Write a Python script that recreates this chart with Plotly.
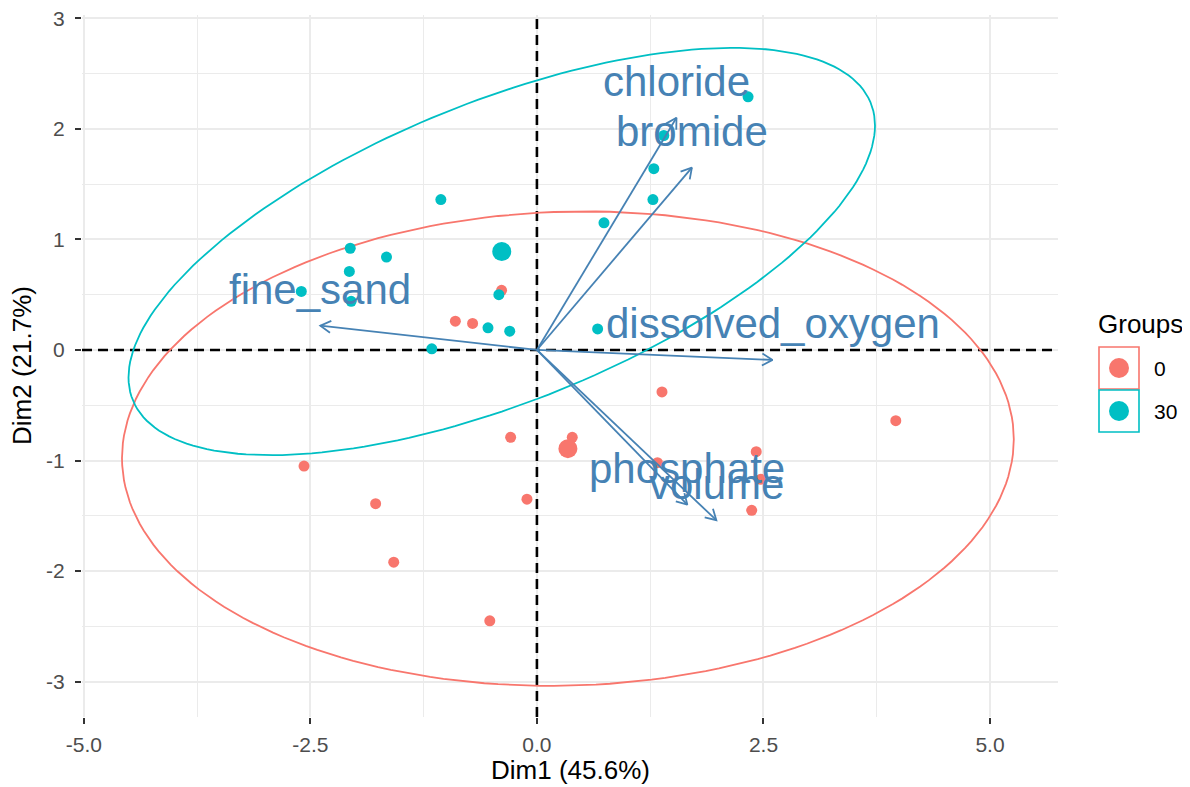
import numpy as np
import plotly.graph_objects as go

# ---------------- data ----------------
groups = ["0", "30"]
group_colors = {"0": "#F8766D", "30": "#00BFC4"}

# individuals, group "0"
g0_x = [-0.39, -0.90, -0.71, 1.38, 3.96, 0.39, 2.42, 1.33, 2.47, 2.37, -0.29, -2.57, -1.78, -0.11, -1.58, -0.52]
g0_y = [0.54, 0.26, 0.24, -0.38, -0.64, -0.79, -0.92, -1.02, -1.17, -1.45, -0.79, -1.05, -1.39, -1.35, -1.92, -2.45]
# individuals, group "30"
g30_x = [2.33, 1.40, 1.29, 1.28, 0.74, -1.06, -2.06, -1.66, -2.07, -2.60, -2.05, -0.42, -0.54, -0.30, -1.16, 0.67]
g30_y = [2.29, 1.94, 1.64, 1.36, 1.15, 1.36, 0.92, 0.84, 0.71, 0.53, 0.44, 0.50, 0.20, 0.17, 0.01, 0.19]

# variable arrows (coordinates of the arrow tips)
var_names = ["chloride", "bromide", "dissolved_oxygen", "fine_sand", "phosphate", "volume"]
var_x = [1.54, 1.71, 2.60, -2.39, 1.66, 1.98]
var_y = [2.10, 1.65, -0.09, 0.22, -1.40, -1.54]

x_tickvals = [-5.0, -2.5, 0.0, 2.5, 5.0]
x_ticktext = ["-5.0", "-2.5", "0.0", "2.5", "5.0"]
y_tickvals = [-3, -2, -1, 0, 1, 2, 3]
y_ticktext = ["-3", "-2", "-1", "0", "1", "2", "3"]

x_title = "Dim1 (45.6%)"
y_title = "Dim2 (21.7%)"
legend_title = "Groups"
ellipse_level = 0.95

# ---------------- layout constants ----------------
# the page body has an 8px margin, so the figure is drawn 8px in from the
# window's top-left corner; all pixel positions below are window pixels.
OFF = 8
WIN_W, WIN_H = 1190, 787
W, H = WIN_W - OFF, WIN_H - OFF
PX0, PX1, PY0, PY1 = 82, 1058, 15, 717
X_MIN, X_MAX = -5.02, 5.75
Y_MIN, Y_MAX = -3.32, 3.03
SX = (PX1 - PX0) / (X_MAX - X_MIN)
SY = (PY1 - PY0) / (Y_MAX - Y_MIN)
FONT = "Liberation Sans, Arial, Helvetica, sans-serif"
ARROW_COL = "#4682B4"


def pxp(xp):
    return (xp - PX0) / (PX1 - PX0)


def pyp(yp):
    return (PY1 - yp) / (PY1 - PY0)


def norm_ellipse(xs, ys, level=0.95, segments=200):
    """Same computation as ggplot2::stat_ellipse(type = 'norm')."""
    pts = np.column_stack([xs, ys])
    n = len(pts)
    center = pts.mean(axis=0)
    cov = np.cov(pts, rowvar=False)
    d = n - 1
    # quantile of F(2, d) in closed form
    qf = (d / 2.0) * ((1 - level) ** (-2.0 / d) - 1)
    radius = np.sqrt(2 * qf)
    ang = np.linspace(0, 2 * np.pi, segments + 1)
    circle = np.column_stack([np.cos(ang), np.sin(ang)])
    L = np.linalg.cholesky(cov)
    ell = center + radius * circle @ L.T
    return ell[:, 0], ell[:, 1]


fig = go.Figure()

data = {"0": (g0_x, g0_y), "30": (g30_x, g30_y)}

# dashed reference lines
fig.add_trace(go.Scatter(x=[X_MIN, X_MAX], y=[0, 0], mode="lines",
                         line=dict(color="black", width=2.6, dash="10px,6px"),
                         hoverinfo="skip", showlegend=False))
fig.add_trace(go.Scatter(x=[0, 0], y=[Y_MIN, Y_MAX], mode="lines",
                         line=dict(color="black", width=2.6, dash="10px,6px"),
                         hoverinfo="skip", showlegend=False))

# ellipses
for g in groups:
    ex, ey = norm_ellipse(*data[g], level=ellipse_level)
    fig.add_trace(go.Scatter(x=ex, y=ey, mode="lines",
                             line=dict(color=group_colors[g], width=1.8),
                             hoverinfo="skip", showlegend=False))

# individual points
for g in groups:
    gx, gy = data[g]
    fig.add_trace(go.Scatter(x=gx, y=gy, mode="markers",
                             marker=dict(color=group_colors[g], size=11, line=dict(width=0)),
                             name=g, showlegend=False))
# group means
for g in groups:
    gx, gy = data[g]
    fig.add_trace(go.Scatter(x=[np.mean(gx)], y=[np.mean(gy)], mode="markers",
                             marker=dict(color=group_colors[g], size=19, line=dict(width=0)),
                             hoverinfo="skip", showlegend=False))

# variable arrows
HEAD_LEN = 12
HEAD_ANG = np.radians(30)
ax_, ay_ = [], []
for vx, vy in zip(var_x, var_y):
    dxp, dyp = vx * SX, vy * SY
    n = np.hypot(dxp, dyp)
    ux, uy = dxp / n, dyp / n
    wings = []
    for s in (1, -1):
        a = s * HEAD_ANG
        rx = ux * np.cos(a) - uy * np.sin(a)
        ry = ux * np.sin(a) + uy * np.cos(a)
        wings.append((vx - HEAD_LEN * rx / SX, vy - HEAD_LEN * ry / SY))
    ax_ += [0, vx, None, wings[0][0], vx, wings[1][0], None]
    ay_ += [0, vy, None, wings[0][1], vy, wings[1][1], None]
fig.add_trace(go.Scatter(x=ax_, y=ay_, mode="lines",
                         line=dict(color=ARROW_COL, width=1.8),
                         hoverinfo="skip", showlegend=False))

# variable labels
annotations = []
for name, vx, vy in zip(var_names, var_x, var_y):
    annotations.append(dict(x=vx, y=vy, xref="x", yref="y", text=name, showarrow=False,
                            xanchor="center", yanchor="middle", yshift=36,
                            font=dict(family=FONT, size=42, color=ARROW_COL)))

# axis titles
annotations.append(dict(x=0.5, y=pyp(770), xref="paper", yref="paper", text=x_title,
                        showarrow=False, xanchor="center", yanchor="middle",
                        font=dict(family=FONT, size=26, color="#000000")))
annotations.append(dict(x=pxp(22), y=0.5, xref="paper", yref="paper", text=y_title,
                        showarrow=False, xanchor="center", yanchor="middle", textangle=-90,
                        font=dict(family=FONT, size=26, color="#000000")))

# legend (drawn by hand to get ggplot-like keys)
shapes = []
annotations.append(dict(x=pxp(1096), y=pyp(324), xref="paper", yref="paper", text=legend_title,
                        showarrow=False, xanchor="left", yanchor="middle",
                        font=dict(family=FONT, size=26, color="#000000")))
key_tops = [347, 390]
for g, top in zip(groups, key_tops):
    shapes.append(dict(type="rect", xref="paper", yref="paper",
                       x0=pxp(1099), x1=pxp(1139), y0=pyp(top + 42), y1=pyp(top),
                       line=dict(color=group_colors[g], width=1.6), fillcolor="white", layer="above"))
    cy = top + 21
    shapes.append(dict(type="circle", xref="paper", yref="paper",
                       x0=pxp(1109), x1=pxp(1129), y0=pyp(cy + 10), y1=pyp(cy - 10),
                       line=dict(width=0), fillcolor=group_colors[g], layer="above"))
    annotations.append(dict(x=pxp(1152), y=pyp(cy), xref="paper", yref="paper", text=g,
                            showarrow=False, xanchor="left", yanchor="middle",
                            font=dict(family=FONT, size=21, color="#000000")))

axis_common = dict(showgrid=True, gridcolor="#EBEBEB", gridwidth=2, zeroline=False,
                   showline=False, ticks="outside", ticklen=6, tickwidth=1.6,
                   tickcolor="#333333", ticklabeloverflow="allow", automargin=False,
                   tickfont=dict(family=FONT, size=21, color="#4D4D4D"))

fig.update_layout(
    width=W, height=H,
    margin=dict(l=PX0 - OFF, r=W - (PX1 - OFF), t=PY0 - OFF, b=H - (PY1 - OFF), pad=0,
                autoexpand=False),
    paper_bgcolor="white", plot_bgcolor="white",
    showlegend=False,
    xaxis=dict(range=[X_MIN, X_MAX], tickvals=x_tickvals, ticktext=x_ticktext,
               minor=dict(dtick=1.25, tick0=0, showgrid=True, gridcolor="#EBEBEB", gridwidth=1.2, ticks=""),
               ticklabelstandoff=3, **axis_common),
    yaxis=dict(range=[Y_MIN, Y_MAX], tickvals=y_tickvals, ticktext=y_ticktext,
               minor=dict(dtick=0.5, tick0=0, showgrid=True, gridcolor="#EBEBEB", gridwidth=1.2, ticks=""),
               ticklabelstandoff=6, **axis_common),
    annotations=annotations,
    shapes=shapes,
)

fig.write_html("out.html")
